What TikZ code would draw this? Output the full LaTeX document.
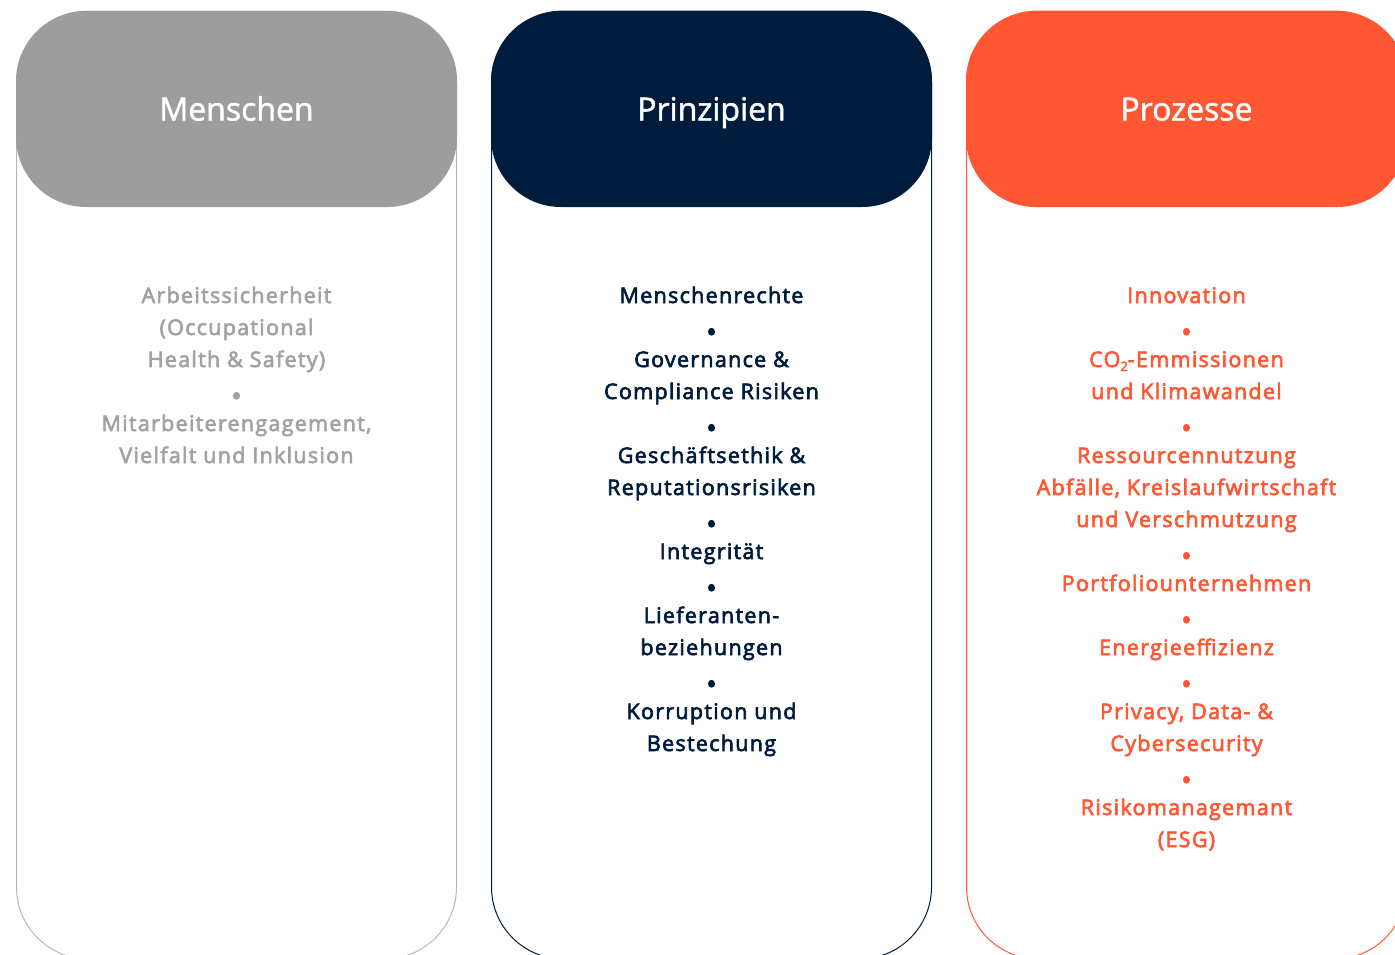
\documentclass[tikz,border=0pt]{standalone}
\usepackage{fontspec}
\setmainfont{Open Sans}
\newfontfamily\listfont{Open Sans}[FakeBold=3, LetterSpace=6]
\newfontfamily\kopffont{Open Sans}[FakeBold=1.5]
\definecolor{grau}{HTML}{9C9D9C}
\definecolor{graurand}{HTML}{B8B8B8}
\definecolor{grautext}{HTML}{A2A2A2}
\definecolor{navy}{HTML}{001C3D}
\definecolor{orange}{HTML}{FF5733}
\newcommand{\pkt}{\raisebox{-7pt}{\fontsize{28}{32}\selectfont\textbullet}}
\newcommand{\tief}[1]{\raisebox{-4pt}{\fontsize{13}{16}\selectfont #1}}

\begin{document}
\begin{tikzpicture}
    [x = 1pt, y = -1pt, font = \listfont\fontsize{21.5}{32}\selectfont,
     kopf/.style = {rectangle, rounded corners = 70pt, minimum width = 441pt,
       minimum height = 196pt, text height = 23pt, text depth = 0pt,
       text = white, font = \kopffont\fontsize{32}{36}\selectfont},
     liste/.style = {align = center, anchor = base, inner sep = 0pt}]
    \useasboundingbox (0,0) rectangle (1395,954);
    \foreach \i/\name/\fuell/\rand in {0/Menschen/grau/graurand,1/Prinzipien/navy/navy,2/Prozesse/orange/orange}
    {
      \draw[\rand, line width = 1pt, rounded corners = 72pt] (16.5+475*\i,11) rectangle ++(440,948);
      \node[kopf, fill = \fuell] (kopf\i) at (236.5+475*\i,109) {\name};
    }
    \node[liste, text = grautext] (liste0) at (236.5,463)
      {Arbeitssicherheit\\(Occupational\\Health \& Safety)\\\pkt\\Mitarbeiterengagement,\\Vielfalt und Inklusion};
    \node[liste, text = navy] (liste1) at (711.5,751)
      {Menschenrechte\\\pkt\\Governance \&\\Compliance Risiken\\\pkt\\Geschäftsethik \&\\Reputationsrisiken\\\pkt\\Integrität\\\pkt\\Lieferanten-\\beziehungen\\\pkt\\Korruption und\\Bestechung};
    \node[liste, text = orange] (liste2) at (1186.5,847)
      {Innovation\\\pkt\\CO\tief{2}-Emmissionen\\und Klimawandel\\\pkt\\Ressourcennutzung\\Abfälle, Kreislaufwirtschaft\\und Verschmutzung\\\pkt\\Portfoliounternehmen\\\pkt\\Energieeffizienz\\\pkt\\Privacy, Data- \&\\Cybersecurity\\\pkt\\Risikomanagemant\\(ESG)};
\end{tikzpicture}
\end{document}
